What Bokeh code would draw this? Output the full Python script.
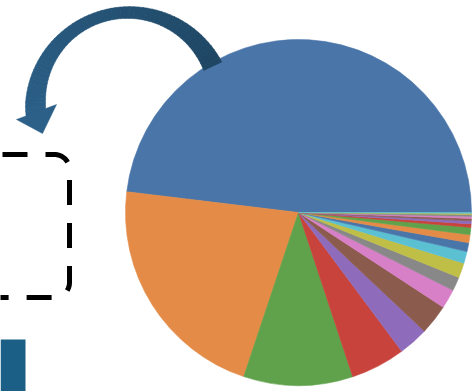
import numpy as np
from bokeh.plotting import figure
from bokeh.models import Range1d
from bokeh.embed import file_html
from bokeh.resources import INLINE

# ---- data (percent shares) ----
slice_names = [f"S{i+1}" for i in range(20)]
slice_values = [48.1, 21.8, 10.2, 5.1, 2.8, 2.8, 1.8, 1.3, 1.4, 1.1,
                0.83, 0.75, 0.67, 0.33, 0.28, 0.22, 0.19, 0.17, 0.11, 0.08]
palette = ["#4a75a9", "#e38b47", "#60a24b", "#c8433b", "#8f6cbb",
           "#8b5b4e", "#d880c7", "#888888", "#bfbf48", "#5cc0d3"]
slice_colors = [palette[i % len(palette)] for i in range(len(slice_values))]

W, H = 474, 391

p = figure(width=W, height=H, output_backend="svg", toolbar_location=None,
           x_range=Range1d(0, W), y_range=Range1d(0, H),
           x_axis_location=None, y_axis_location=None, min_border=0)
p.grid.visible = False
p.outline_line_color = None
p.background_fill_color = "white"
p.border_fill_color = "white"

# ---- pie ----
vals = np.array(slice_values, dtype=float)
frac = vals / vals.sum()
ends = np.cumsum(frac) * 2 * np.pi
starts = np.concatenate([[0.0], ends[:-1]])
cx, cy = 298, H - 212
p.wedge(x=cx, y=cy, radius=173, radius_units="screen",
        start_angle=starts, end_angle=ends, direction="anticlock",
        fill_color=slice_colors, line_color=slice_colors, line_width=0.6)

# ---- curved arrow (screen-pixel layout) ----
acx, acy, ar = 128.0, 105.0, 93.0
th0, th1 = np.radians(25), np.radians(186)
n = 60
ths = np.linspace(th0, th1, n + 1)
tt = (ths - th0) / (th1 - th0)
wid = 20 - 8.5 * np.sin(np.pi * np.clip(tt * 1.05, 0, 1))
ro = ar + wid / 2
ri = ar - wid / 2
c0 = np.array([0x1f, 0x47, 0x64])
c1 = np.array([0x2c, 0x60, 0x88])
xs, ys, cols = [], [], []
for i in range(n):
    a, b = ths[i], ths[i + 1] + 0.004
    qx = [acx + ro[i] * np.cos(a), acx + ro[i + 1] * np.cos(b),
          acx + ri[i + 1] * np.cos(b), acx + ri[i] * np.cos(a)]
    qy = [acy - ro[i] * np.sin(a), acy - ro[i + 1] * np.sin(b),
          acy - ri[i + 1] * np.sin(b), acy - ri[i] * np.sin(a)]
    xs.append(qx)
    ys.append([H - v for v in qy])
    c = (c0 + (c1 - c0) * tt[i]).astype(int)
    cols.append("#%02x%02x%02x" % tuple(c))
p.patches(xs=xs, ys=ys, fill_color=cols, line_color=cols, line_width=0.5)
p.patch(x=[16, 56, 42], y=[H - 119, H - 104, H - 133],
        fill_color="#2c6088", line_color="#2c6088", line_width=0.5)

# ---- dashed rounded box ----
rr = 15
top, bottom, right, left = 154, 297, 69, -10
arc1 = np.linspace(np.pi / 2, 0, 20)
arc2 = np.linspace(0, -np.pi / 2, 20)
bx = ([left] + list(right - rr + rr * np.cos(arc1)) +
      list(right - rr + rr * np.cos(arc2)) + [left])
by = ([top] + list(top + rr - rr * np.sin(arc1)) +
      list(bottom - rr - rr * np.sin(arc2)) + [bottom])
p.line(x=bx, y=[H - v for v in by], line_color="black", line_width=5,
       line_dash="25 18", line_dash_offset=31, line_join="round")

# ---- blue block bottom-left ----
p.quad(left=0, right=25, bottom=0, top=H - 339,
       fill_color="#1b5f87", line_color=None)

open("out.html", "w").write(file_html(p, INLINE))
